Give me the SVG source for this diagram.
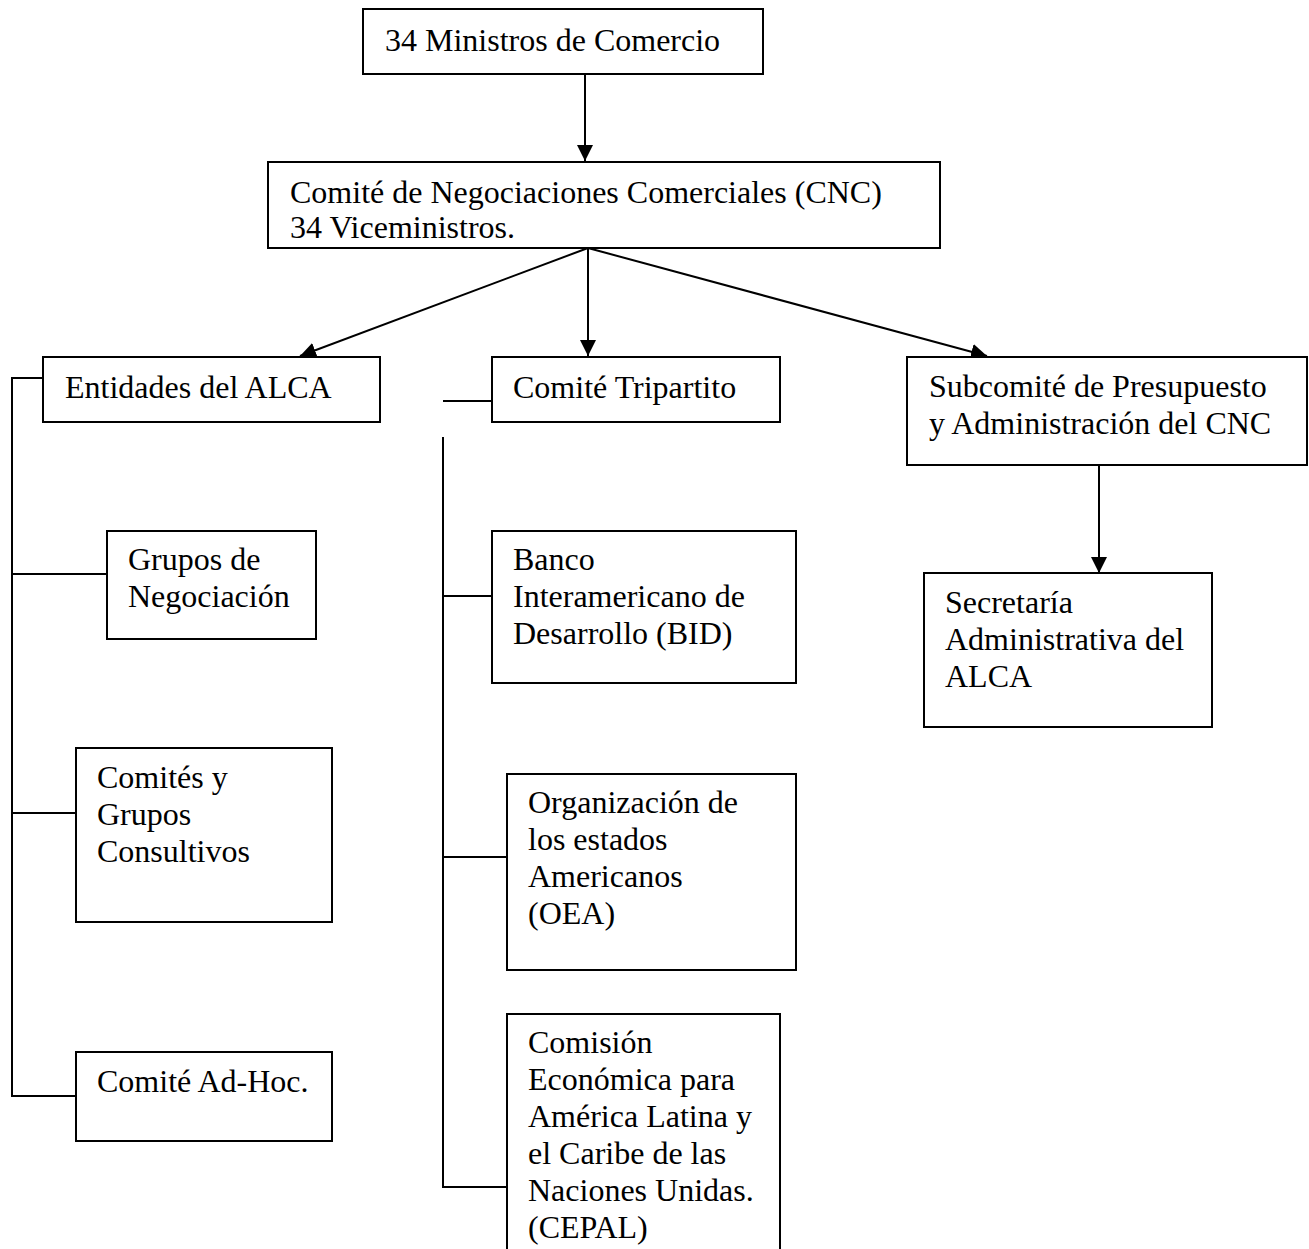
<svg xmlns="http://www.w3.org/2000/svg" width="1309" height="1249" viewBox="0 0 1309 1249">
<style>
.box{fill:#fff;stroke:#000;stroke-width:2}
.ln{fill:none;stroke:#000;stroke-width:2}
text{font-family:"Liberation Serif","Times New Roman",serif;font-size:32px;fill:#000}
</style>
<defs>
<marker id="ah" markerUnits="userSpaceOnUse" markerWidth="16" markerHeight="18" refX="16" refY="8" orient="auto" viewBox="0 0 16 16">
<path d="M0,0 L16,8 L0,16 Z" fill="#000"/>
</marker>
</defs>
<rect width="1309" height="1249" fill="#fff"/>
<g id="connectors">
<line class="ln" x1="585" y1="74" x2="585" y2="161" marker-end="url(#ah)"/>
<line class="ln" x1="588" y1="248" x2="300" y2="356" marker-end="url(#ah)"/>
<line class="ln" x1="588" y1="248" x2="588" y2="356" marker-end="url(#ah)"/>
<line class="ln" x1="588" y1="248" x2="987" y2="356" marker-end="url(#ah)"/>
<line class="ln" x1="1099" y1="465" x2="1099" y2="573" marker-end="url(#ah)"/>
<polyline class="ln" points="43,378 12,378 12,1096 76,1096"/>
<line class="ln" x1="12" y1="574" x2="107" y2="574"/>
<line class="ln" x1="12" y1="813" x2="76" y2="813"/>
<line class="ln" x1="443" y1="401" x2="492" y2="401"/>
<polyline class="ln" points="443,437 443,1187 507,1187"/>
<line class="ln" x1="443" y1="596" x2="492" y2="596"/>
<line class="ln" x1="443" y1="857" x2="507" y2="857"/>
</g>
<g id="ministros">
<rect class="box" x="363" y="9" width="400" height="65"/>
<text x="385" y="51">34 Ministros de Comercio</text>
</g>
<g id="cnc">
<rect class="box" x="268" y="162" width="672" height="86"/>
<text x="290" y="203">Comité de Negociaciones Comerciales (CNC)</text>
<text x="290" y="238">34 Viceministros.</text>
</g>
<g id="entidades">
<rect class="box" x="43" y="357" width="337" height="65"/>
<text x="65" y="398">Entidades del ALCA</text>
</g>
<g id="tripartito">
<rect class="box" x="492" y="357" width="288" height="65"/>
<text x="513" y="398">Comité Tripartito</text>
</g>
<g id="subcomite">
<rect class="box" x="907" y="357" width="400" height="108"/>
<text x="929" y="397">Subcomité de Presupuesto</text>
<text x="929" y="434">y Administración del CNC</text>
</g>
<g id="secretaria">
<rect class="box" x="924" y="573" width="288" height="154"/>
<text x="945" y="613">Secretaría</text>
<text x="945" y="650">Administrativa del</text>
<text x="945" y="687">ALCA</text>
</g>
<g id="grupos">
<rect class="box" x="107" y="531" width="209" height="108"/>
<text x="128" y="570">Grupos de</text>
<text x="128" y="607">Negociación</text>
</g>
<g id="comites">
<rect class="box" x="76" y="748" width="256" height="174"/>
<text x="97" y="788">Comités y</text>
<text x="97" y="825">Grupos</text>
<text x="97" y="862">Consultivos</text>
</g>
<g id="adhoc">
<rect class="box" x="76" y="1052" width="256" height="89"/>
<text x="97" y="1092">Comité Ad-Hoc.</text>
</g>
<g id="bid">
<rect class="box" x="492" y="531" width="304" height="152"/>
<text x="513" y="570">Banco</text>
<text x="513" y="607">Interamericano de</text>
<text x="513" y="644">Desarrollo (BID)</text>
</g>
<g id="oea">
<rect class="box" x="507" y="774" width="289" height="196"/>
<text x="528" y="813">Organización de</text>
<text x="528" y="850">los estados</text>
<text x="528" y="887">Americanos</text>
<text x="528" y="924">(OEA)</text>
</g>
<g id="cepal">
<path class="ln" d="M507,1249 L507,1014 L780,1014 L780,1249"/>
<text x="528" y="1053">Comisión</text>
<text x="528" y="1090">Económica para</text>
<text x="528" y="1127">América Latina y</text>
<text x="528" y="1164">el Caribe de las</text>
<text x="528" y="1201">Naciones Unidas.</text>
<text x="528" y="1238">(CEPAL)</text>
</g>
</svg>
